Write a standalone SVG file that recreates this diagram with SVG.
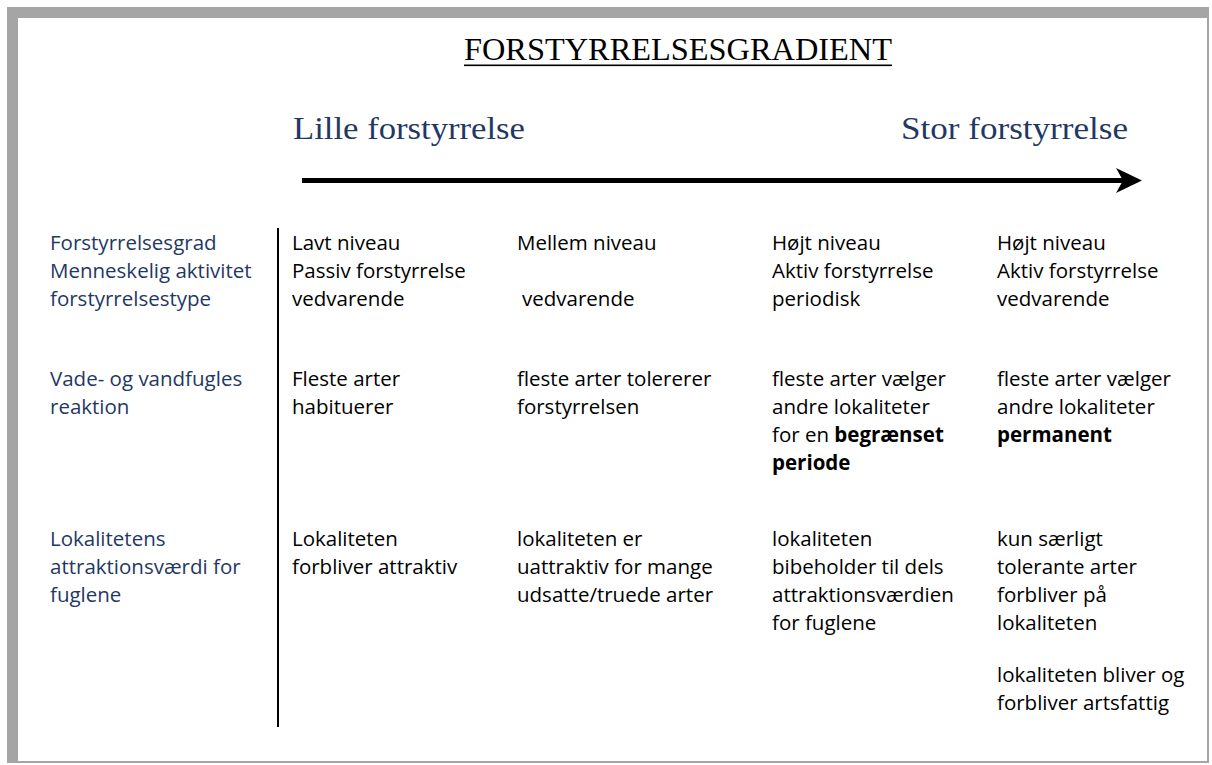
<svg xmlns="http://www.w3.org/2000/svg" width="1212" height="765" viewBox="0 0 1212 765">
<style>
.title{font-family:"Liberation Serif","Times New Roman",serif;font-size:32px;fill:#000}
.head{font-family:"Liberation Serif","Times New Roman",serif;font-size:31px;fill:#1F3864}
.lab{font-family:"Open Sans","Noto Sans",sans-serif;font-size:20.5px;fill:#1F3864}
.txt{font-family:"Open Sans","Noto Sans",sans-serif;font-size:20.5px;fill:#000}
.b{font-weight:bold}
</style>
<rect x="0" y="0" width="1212" height="765" fill="#fff"/>
<g id="frame">
<rect x="7" y="7" width="1202" height="756" fill="#A5A5A5"/>
<rect x="18" y="18" width="1189" height="743" fill="#fff"/>
</g>
<g id="title">
<text class="title" x="464" y="60" textLength="428" lengthAdjust="spacingAndGlyphs">FORSTYRRELSESGRADIENT</text>
<rect x="464" y="64.5" width="428" height="1.6" fill="#000"/>
</g>
<g id="lille">
<text class="head" x="293" y="139" textLength="232" lengthAdjust="spacingAndGlyphs">Lille forstyrrelse</text>
</g>
<g id="stor">
<text class="head" x="901" y="139" textLength="227" lengthAdjust="spacingAndGlyphs">Stor forstyrrelse</text>
</g>
<g id="connectors">
<line x1="302" y1="180.5" x2="1124" y2="180.5" stroke="#000" stroke-width="5"/>
<polygon points="1116,168 1142,180.5 1116,193 1123,180.5" fill="#000"/>
<line x1="278" y1="228" x2="278" y2="727" stroke="#000" stroke-width="2"/>
</g>
<g id="labels">
<text class="lab" x="50" y="250">Forstyrrelsesgrad</text>
<text class="lab" x="50" y="278">Menneskelig aktivitet</text>
<text class="lab" x="50" y="306">forstyrrelsestype</text>
<text class="lab" x="50" y="386">Vade- og vandfugles</text>
<text class="lab" x="50" y="414">reaktion</text>
<text class="lab" x="50" y="546">Lokalitetens</text>
<text class="lab" x="50" y="574">attraktionsværdi for</text>
<text class="lab" x="50" y="602">fuglene</text>
</g>
<g id="col1">
<text class="txt" x="292" y="250">Lavt niveau</text>
<text class="txt" x="292" y="278">Passiv forstyrrelse</text>
<text class="txt" x="292" y="306">vedvarende</text>
<text class="txt" x="292" y="386">Fleste arter</text>
<text class="txt" x="292" y="414">habituerer</text>
<text class="txt" x="292" y="546">Lokaliteten</text>
<text class="txt" x="292" y="574">forbliver attraktiv</text>
</g>
<g id="col2">
<text class="txt" x="517" y="250">Mellem niveau</text>
<text class="txt" x="522" y="306">vedvarende</text>
<text class="txt" x="517" y="386">fleste arter tolererer</text>
<text class="txt" x="517" y="414">forstyrrelsen</text>
<text class="txt" x="517" y="546">lokaliteten er</text>
<text class="txt" x="517" y="574">uattraktiv for mange</text>
<text class="txt" x="517" y="602">udsatte/truede arter</text>
</g>
<g id="col3">
<text class="txt" x="772" y="250">Højt niveau</text>
<text class="txt" x="772" y="278">Aktiv forstyrrelse</text>
<text class="txt" x="772" y="306">periodisk</text>
<text class="txt" x="772" y="386">fleste arter vælger</text>
<text class="txt" x="772" y="414">andre lokaliteter</text>
<text class="txt" x="772" y="442">for en <tspan class="b">begrænset</tspan></text>
<text class="txt b" x="772" y="470">periode</text>
<text class="txt" x="772" y="546">lokaliteten</text>
<text class="txt" x="772" y="574">bibeholder til dels</text>
<text class="txt" x="772" y="602">attraktionsværdien</text>
<text class="txt" x="772" y="630">for fuglene</text>
</g>
<g id="col4">
<text class="txt" x="997" y="250">Højt niveau</text>
<text class="txt" x="997" y="278">Aktiv forstyrrelse</text>
<text class="txt" x="997" y="306">vedvarende</text>
<text class="txt" x="997" y="386">fleste arter vælger</text>
<text class="txt" x="997" y="414">andre lokaliteter</text>
<text class="txt b" x="997" y="442">permanent</text>
<text class="txt" x="997" y="546">kun særligt</text>
<text class="txt" x="997" y="574">tolerante arter</text>
<text class="txt" x="997" y="602">forbliver på</text>
<text class="txt" x="997" y="630">lokaliteten</text>
<text class="txt" x="997" y="682">lokaliteten bliver og</text>
<text class="txt" x="997" y="710">forbliver artsfattig</text>
</g>
</svg>
